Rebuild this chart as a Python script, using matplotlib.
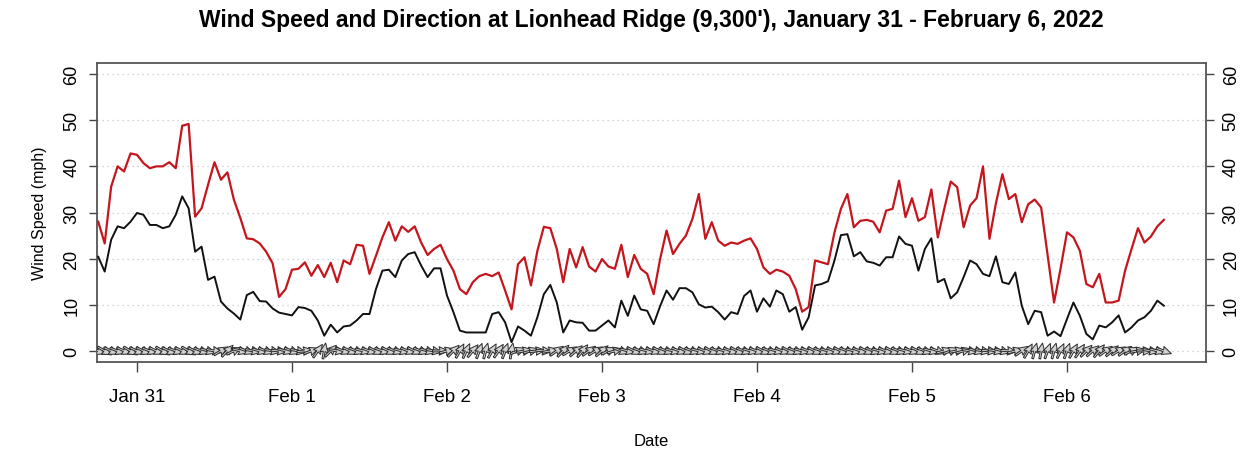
import numpy as np
import pandas as pd
import matplotlib
matplotlib.use("Agg")
import matplotlib.pyplot as plt
import matplotlib.dates as mdates

plt.rcParams['font.family'] = ['Liberation Sans', 'DejaVu Sans']

# hourly values, starting Jan 30 18:00
gust = [28.0, 23.3, 35.6, 40.0, 38.9, 42.8, 42.5, 40.7, 39.6, 40.0, 40.0, 40.9,
        39.6, 48.8, 49.2, 29.1, 30.9, 36.0, 40.9, 37.1, 38.7, 32.8, 28.8, 24.4,
        24.2, 23.3, 21.5, 19.0, 11.7, 13.4, 17.6, 17.8, 19.2, 16.3, 18.6, 16.0,
        19.1, 14.9, 19.6, 18.8, 23.0, 22.8, 16.7, 20.6, 24.6, 27.9, 23.9, 27.0,
        25.8, 27.0, 23.5, 20.8, 22.1, 23.0, 19.9, 17.4, 13.4, 12.3, 14.9, 16.2,
        16.7, 16.2, 17.0, 13.1, 9.0, 18.8, 20.3, 14.2, 21.7, 26.9, 26.6, 22.1,
        14.9, 22.1, 18.1, 22.5, 18.3, 17.2, 19.9, 18.3, 17.8, 23.0, 16.0, 20.8,
        17.8, 16.7, 12.3, 19.9, 26.1, 21.0, 23.2, 25.0, 28.6, 34.0, 24.3, 27.9,
        23.9, 22.8, 23.5, 23.2, 23.9, 24.4, 22.1, 18.1, 16.7, 17.6, 17.2, 16.3,
        13.4, 8.5, 9.5, 19.6, 19.2, 18.8, 25.7, 30.8, 34.0, 26.8, 28.2, 28.4,
        28.0, 25.7, 30.4, 30.8, 36.9, 29.0, 33.1, 28.2, 29.0, 35.0, 24.6, 30.8,
        36.7, 35.5, 26.8, 31.5, 33.1, 40.0, 24.3, 32.0, 38.3, 32.9, 34.0, 27.9,
        31.8, 32.8, 31.1, 20.8, 10.5, 17.8, 25.7, 24.6, 21.7, 14.5, 13.8, 16.7,
        10.5, 10.5, 10.9, 17.4, 22.1, 26.6, 23.5, 24.8, 27.0, 28.4]

speed = [20.4, 17.2, 24.1, 27.0, 26.6, 28.0, 29.9, 29.5, 27.3, 27.3, 26.6, 27.0,
         29.5, 33.5, 30.9, 21.5, 22.6, 15.4, 16.1, 10.7, 9.2, 8.1, 6.8, 12.1,
         12.8, 10.8, 10.7, 9.2, 8.3, 8.0, 7.7, 9.5, 9.3, 8.7, 6.6, 3.3,
         5.7, 4.0, 5.3, 5.5, 6.6, 8.0, 8.0, 13.4, 17.4, 17.6, 16.0, 19.6,
         21.0, 21.4, 18.5, 16.0, 17.9, 17.9, 12.0, 8.4, 4.4, 4.0, 4.0, 4.0,
         4.0, 8.0, 8.4, 6.2, 1.9, 5.3, 4.4, 3.3, 7.3, 12.3, 14.3, 10.5,
         4.0, 6.6, 6.2, 6.1, 4.4, 4.4, 5.5, 6.6, 5.1, 10.9, 7.6, 12.0,
         9.0, 8.7, 5.8, 9.7, 13.1, 11.1, 13.6, 13.6, 12.7, 10.1, 9.4, 9.6,
         8.4, 6.8, 8.4, 8.0, 11.9, 13.1, 8.5, 11.4, 9.6, 13.1, 12.3, 8.5,
         9.5, 4.6, 7.3, 14.2, 14.5, 15.1, 19.6, 25.1, 25.3, 20.5, 21.4, 19.4,
         19.1, 18.5, 20.3, 20.3, 24.8, 23.2, 22.8, 17.4, 22.1, 24.4, 14.9, 15.6,
         11.4, 12.7, 16.0, 19.6, 18.8, 16.7, 16.2, 20.5, 14.9, 14.5, 17.0, 9.8,
         5.8, 8.7, 8.4, 3.3, 4.2, 3.2, 6.9, 10.5, 7.6, 3.7, 2.5, 5.5,
         5.1, 6.2, 7.7, 4.0, 5.1, 6.6, 7.3, 8.7, 10.9, 9.8]

# wind direction (degrees, from) estimated from the arrow glyphs
direction = [295, 300, 295, 290, 295, 300, 295, 295, 290, 295, 300, 295,
             290, 295, 300, 295, 290, 285, 280, 240, 225, 245, 285, 290,
             280, 285, 290, 280, 275, 285, 290, 280, 265, 250, 215, 190,
             225, 280, 290, 295, 290, 285, 290, 295, 290, 295, 290, 285,
             290, 295, 290, 285, 280, 270, 255, 225, 210, 205, 220, 200,
             195, 210, 215, 200, 190, 250, 260, 255, 265, 275, 260, 235,
             225, 240, 230, 220, 235, 240, 230, 245, 255, 290, 285, 295,
             290, 285, 290, 295, 290, 285, 290, 295, 290, 285, 290, 295,
             290, 285, 290, 295, 290, 285, 290, 295, 290, 285, 290, 295,
             290, 285, 290, 295, 290, 285, 290, 295, 290, 285, 290, 295,
             290, 285, 290, 295, 290, 285, 290, 295, 290, 285, 290, 255,
             250, 260, 255, 280, 285, 280, 275, 280, 285, 275, 255, 235,
             210, 195, 190, 200, 195, 205, 200, 210, 215, 225, 230, 220,
             235, 230, 240, 235, 245, 260, 270, 280, 285, 290]

day_labels = ["Jan 31", "Feb 1", "Feb 2", "Feb 3", "Feb 4", "Feb 5", "Feb 6"]

times = pd.date_range("2022-01-30 18:00", periods=len(gust), freq="h")
tick_days = pd.date_range("2022-01-31", periods=len(day_labels), freq="D")
x = mdates.date2num(times)

fig = plt.figure(figsize=(12.55, 4.52), dpi=100)
ax = fig.add_axes([97/1255, 1 - 363/452, (1206 - 97)/1255, (363 - 64)/452])

for yv in range(0, 70, 10):
    ax.axhline(yv, color="#c8c8c8", linestyle=(0, (1, 3)), linewidth=0.9, zorder=0)

ax.plot(x, gust, color="#c4161c", linewidth=1.6, zorder=3)
ax.plot(x, speed, color="#111111", linewidth=1.4, zorder=3)

# direction arrows along the zero line (pointing downwind)
rad = np.deg2rad(direction)
u = -np.sin(rad)
v = -np.cos(rad)
ax.quiver(x, np.zeros(len(x)), u, v, angles="uv", pivot="middle",
          scale_units="inches", scale=1 / 0.16, width=0.0017,
          headwidth=4.5, headlength=5, headaxislength=4.5,
          facecolor="#d2d2d2", edgecolor="#2a2a2a", linewidth=0.7, zorder=4)

x0 = mdates.date2num(pd.Timestamp("2022-01-31")) - 0.258
x1 = mdates.date2num(pd.Timestamp("2022-01-31")) + 6.897
ax.set_xlim(x0, x1)
ax.set_ylim(-2.4, 62.4)

ax.set_xticks(mdates.date2num(tick_days))
ax.set_xticklabels(day_labels)
ax.set_yticks(range(0, 70, 10))
ax.tick_params(axis="x", length=7, width=1, pad=12, labelsize=13.5, color="#444444")
ax.tick_params(axis="y", length=6, width=1, pad=6, labelsize=13, color="#444444",
               right=True, labelright=True)
for t in ax.yaxis.get_major_ticks():
    t.label1.set_rotation(90)
    t.label2.set_rotation(90)
    t.label1.set_va("center")
    t.label2.set_va("center")

for s in ax.spines.values():
    s.set_color("#555555")
    s.set_linewidth(1.3)

ax.set_xlabel("Date", fontsize=12, labelpad=20)
ax.set_ylabel("Wind Speed (mph)", fontsize=11.5, labelpad=12)
fig.suptitle("Wind Speed and Direction at Lionhead Ridge (9,300'), January 31 - February 6, 2022",
             x=(97 + 1206) / 2 / 1255, y=1 - 20/452, va="center",
             fontsize=16.5, fontweight="bold")

plt.savefig("out.png", dpi=100)
plt.close()
